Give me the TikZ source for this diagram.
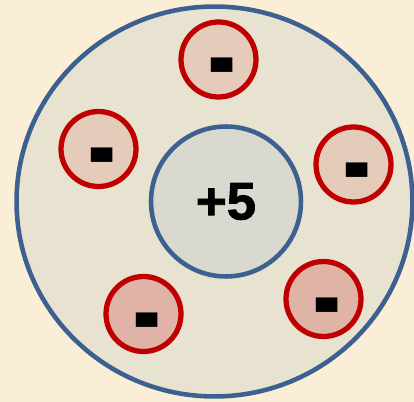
\documentclass[tikz,border=0pt]{standalone}
\usepackage{fontspec}
\setmainfont{Liberation Sans}
\newfontfamily\dashfont{DejaVu Sans}
\newfontfamily\chargefont[FakeBold=1.6]{Liberation Sans}
\usetikzlibrary{shapes.geometric,calc}

\definecolor{paper}{HTML}{FBEED6}
\definecolor{shellfill}{HTML}{E8E2D0}
\definecolor{shellline}{HTML}{3C6090}
\definecolor{corefill}{HTML}{D9D9CF}
\definecolor{elline}{HTML}{C00000}
\definecolor{elfillup}{HTML}{E5CBBA}
\definecolor{elfilldown}{HTML}{DFB4A7}

\begin{document}
\begin{tikzpicture}[
    x=0.02cm, y=-0.02cm,
    shell/.style={ellipse, draw=shellline, fill=shellfill, line width=2.6pt, minimum width=7.92cm, minimum height=7.8cm, inner sep=0pt},
    core/.style={circle, draw=shellline, fill=corefill, line width=2.6pt, minimum size=3cm, inner sep=0pt, font=\chargefont\fontsize{30}{32}\selectfont\bfseries},
    electron/.style={circle, draw=elline, line width=3pt, minimum size=1.5cm, inner sep=0pt},
    minus/.style={inner sep=0pt, font=\dashfont\fontsize{40}{40}\selectfont\bfseries}
]
    % background and frame
    \fill[paper] (0,0) rectangle (414,402);
    \useasboundingbox (0,0) rectangle (414,402);

    % atom
    \node[shell] (shell) at (214.5,201.5) {};
    \node[core] (core) at (226,201.5) {+5};

    % electrons
    \node[electron, fill=elfillup] (etop) at (218.5,59.5) {};
    \node[electron, fill=elfillup] (eleft) at (98.5,149) {};
    \node[electron, fill=elfillup] (eright) at (353.5,164.5) {};
    \node[electron, fill=elfilldown] (elowright) at (323.5,299) {};
    \node[electron, fill=elfilldown] (elowleft) at (143.5,314) {};

    % charges
    \node[minus] (mtop) at ($(etop)+(3.5,17)$) {\scalebox{1}[1.45]{-}};
    \node[minus] (mleft) at ($(eleft)+(3.5,17)$) {\scalebox{1}[1.45]{-}};
    \node[minus] (mright) at ($(eright)+(3.5,17)$) {\scalebox{1}[1.45]{-}};
    \node[minus] (mlowright) at ($(elowright)+(3.5,17)$) {\scalebox{1}[1.45]{-}};
    \node[minus] (mlowleft) at ($(elowleft)+(3.5,17)$) {\scalebox{1}[1.45]{-}};
\end{tikzpicture}
\end{document}
